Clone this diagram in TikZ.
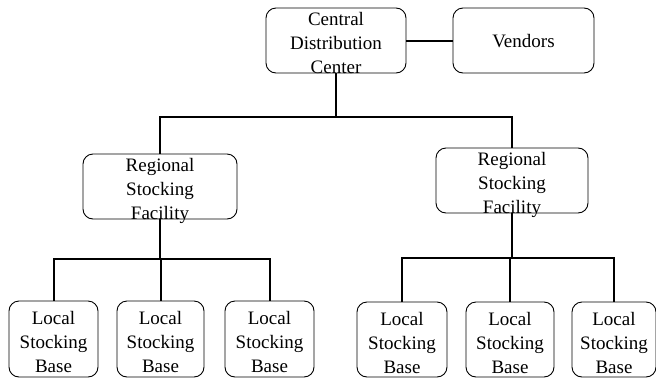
\documentclass[tikz,border=0pt]{standalone}
\usepackage{fontspec}
\setmainfont{Liberation Serif}
\begin{document}
\begin{tikzpicture}[x=1pt,y=-1pt,
  box/.style={draw=black, line width=0.9pt, rounded corners=10pt, inner sep=0pt},
  txt/.style={inner sep=0pt, align=center, font=\fontsize{19}{24}\selectfont},
  conn/.style={draw=black, line width=2pt}]
\useasboundingbox (0,0) rectangle (656,378);
% boxes
\node[box, minimum width=140pt, minimum height=65pt] (cdc) at (336,40.5) {};
\node[box, minimum width=141pt, minimum height=65pt] (ven) at (523.5,40.5) {};
\node[box, minimum width=154pt, minimum height=65pt] (rl) at (160,186.5) {};
\node[box, minimum width=152pt, minimum height=65pt] (rr) at (512,180.5) {};
\node[box, minimum width=89pt, minimum height=76pt] (l1) at (53.5,339) {};
\node[box, minimum width=87pt, minimum height=76pt] (l2) at (160.5,339) {};
\node[box, minimum width=89pt, minimum height=76pt] (l3) at (269.5,339) {};
\node[box, minimum width=90pt, minimum height=75pt] (r1) at (402,339.5) {};
\node[box, minimum width=88pt, minimum height=75pt] (r2) at (510,339.5) {};
\node[box, minimum width=84pt, minimum height=75pt] (r3) at (614,339.5) {};
% buses
\coordinate (busT) at (337,117);
\coordinate (busL) at (160,259);
\coordinate (busR) at (512,258);
% connectors
\draw[conn] (cdc.east) -- (ven.west);
\draw[conn] (cdc.south) -- (cdc.south |- busT);
\draw[conn] (rl.north) -- (rl.north |- busT) -- (rr.north |- busT) -- (rr.north);
\draw[conn] (rl.south) -- (rl.south |- busL);
\draw[conn] (l1.north) -- (l1.north |- busL) -- (l3.north |- busL) -- (l3.north);
\draw[conn] (l2.north) -- (l2.north |- busL);
\draw[conn] (rr.south) -- (rr.south |- busR);
\draw[conn] (r1.north) -- (r1.north |- busR) -- (r3.north |- busR) -- (r3.north);
\draw[conn] (r2.north) -- (r2.north |- busR);
% texts
\node[txt] (cdct) at (336,45) {\strut Central\\\strut Distribution\\\strut Center};
\node[txt] (vent) at (523.5,43) {\strut Vendors};
\node[txt] (rlt) at (160,191) {\strut Regional\\\strut Stocking\\\strut Facility};
\node[txt] (rrt) at (512,185) {\strut Regional\\\strut Stocking\\\strut Facility};
\foreach \n in {l1,l2,l3,r1,r2,r3}{
  \node[txt] (\n t) at ([yshift=-5pt]\n.center) {\strut Local\\\strut Stocking\\\strut Base};
}
\end{tikzpicture}
\end{document}
